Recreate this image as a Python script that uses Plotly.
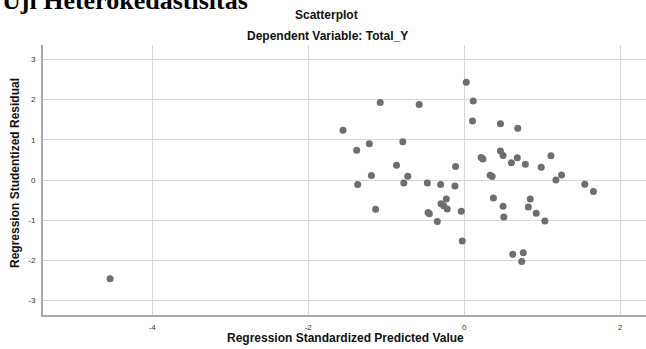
import plotly.graph_objects as go

# Regression Standardized Predicted Value (x) and Regression Studentized Residual (y)
pred = [0.026, -1.077, -0.578, 0.115, 0.106, 0.464, -1.554, 0.686, -1.379, -1.217,
        -0.788, -0.868, -1.19, -0.724, -0.111, 0.217, 0.239, -1.366, -0.775, -0.473,
        -0.303, -0.119, 0.332, 0.358, -0.23, 0.374, -1.136, -0.298, -0.264, -0.218,
        -0.464, -0.447, -0.038, -0.345, -0.026, 0.464, 0.498, 0.604, 0.68, 0.783,
        0.987, 1.111, 1.175, 1.247, 1.545, 1.656, 0.846, 0.498, 0.821, 0.923,
        0.507, 1.034, 0.622, 0.757, 0.737, -4.54]
resid = [2.43, 1.93, 1.88, 1.965, 1.47, 1.40, 1.236, 1.29, 0.739, 0.903,
         0.953, 0.368, 0.112, 0.094, 0.335, 0.56, 0.525, -0.112, -0.072, -0.072,
         -0.112, -0.147, 0.117, 0.085, -0.47, -0.445, -0.73, -0.59, -0.64, -0.72,
         -0.81, -0.84, -0.78, -1.03, -1.52, 0.72, 0.61, 0.43, 0.555, 0.39,
         0.316, 0.604, 0.0, 0.127, -0.104, -0.286, -0.47, -0.655, -0.67, -0.83,
         -0.92, -1.02, -1.85, -1.81, -2.03, -2.46]

x_ticks = [-4, -2, 0, 2]
y_ticks = [-3, -2, -1, 0, 1, 2, 3]

W, H = 646, 349
L, R, T, B = 43, 0, 45, 34

def px(xp):
    return (xp - L) / (W - L - R)

def py(yp):
    return (H - B - yp) / (H - T - B)

fig = go.Figure(go.Scatter(
    x=pred, y=resid, mode="markers",
    marker=dict(size=7, color="#6e6e6e", line=dict(width=0)),
    hoverinfo="skip"))

grid = "#d6d6d6"
fig.update_layout(
    width=W, height=H,
    margin=dict(l=L, r=R, t=T, b=B),
    paper_bgcolor="white", plot_bgcolor="white",
    showlegend=False,
    font=dict(family="Liberation Sans, Arial, sans-serif", color="#222"),
    xaxis=dict(range=[-5.40, 2.33], tickvals=x_ticks, ticktext=[str(v) for v in x_ticks],
               showgrid=True, gridcolor=grid, gridwidth=1, zeroline=False,
               showline=True, linecolor="#a8a8a8", linewidth=2,
               tickfont=dict(size=8, color="#333"), ticks="", ticklabelstandoff=3),
    yaxis=dict(range=[-3.36, 3.36], tickvals=y_ticks, ticktext=[str(v) for v in y_ticks],
               showgrid=True, gridcolor=grid, gridwidth=1, zeroline=False,
               showline=True, linecolor="#a8a8a8", linewidth=2,
               tickfont=dict(size=8, color="#333"), ticks="", ticklabelstandoff=4),
)

anns = [
    dict(text="<b>Uji Heterokedastisitas</b>", x=px(0), y=py(0.5), xanchor="left", yanchor="middle",
         font=dict(family="Liberation Serif, Times New Roman, serif", size=26, color="#000"),
         showarrow=False),
    dict(text="<b>Scatterplot</b>", x=px(326), y=py(15), xanchor="center", yanchor="middle",
         font=dict(size=12, color="#111"), showarrow=False),
    dict(text="<b>Dependent Variable: Total_Y</b>", x=px(327), y=py(36), xanchor="center", yanchor="middle",
         font=dict(size=12, color="#111"), showarrow=False),
    dict(text="<b>Regression Standardized Predicted Value</b>", x=px(345), y=py(338),
         xanchor="center", yanchor="middle", font=dict(size=12, color="#111"), showarrow=False),
    dict(text="<b>Regression Studentized Residual</b>", x=px(15), y=py(173), textangle=-90,
         xanchor="center", yanchor="middle", font=dict(size=12, color="#111"), showarrow=False),
]
for a in anns:
    a.update(xref="paper", yref="paper")
    fig.add_annotation(**a)

fig.write_html("out.html", config={"displayModeBar": False},
               post_script="document.body.style.margin='0';document.body.style.overflow='hidden';")
